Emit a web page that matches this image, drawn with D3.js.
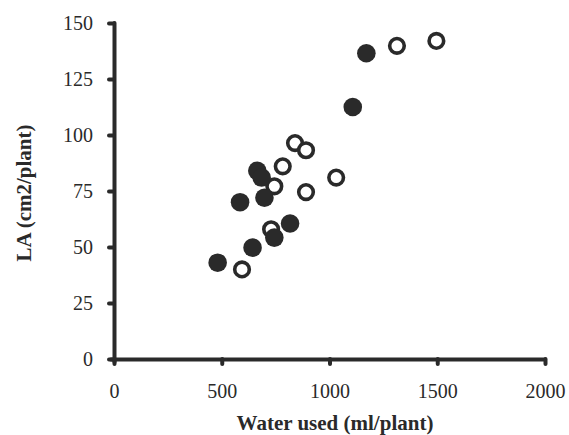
<!DOCTYPE html>
<html><head><meta charset="utf-8">
<script src="https://cdn.jsdelivr.net/npm/d3@7"></script>
<style>
html,body{margin:0;padding:0;background:#fff;}
svg{display:block;}
</style></head>
<body>
<svg id="chart" width="569" height="435"></svg>
<script>
// Data
const filledWater = [481, 585, 643, 665, 685, 698, 744, 817, 1108, 1171];
const filledLA    = [43, 70, 49.7, 84, 81, 72, 54.2, 60.5, 112.5, 136.5];
const openWater   = [594, 729, 744, 783, 840, 891, 891, 1031, 1313, 1496];
const openLA      = [40, 57.9, 77.1, 86, 96.4, 93.2, 74.5, 81, 139.8, 142];
const xTicks = [0, 500, 1000, 1500, 2000];
const yTicks = [0, 25, 50, 75, 100, 125, 150];
const xTitle = "Water used (ml/plant)";
const yTitle = "LA (cm2/plant)";

const ink = "#2a2a2a";
const svg = d3.select("#chart");
const x = d3.scaleLinear().domain([0, 2000]).range([114, 545]);
const y = d3.scaleLinear().domain([0, 150]).range([359, 23]);

const font = "'Liberation Serif','Times New Roman',serif";

// Axes
const xAxis = svg.append("g").attr("transform", `translate(0,${y(0)})`)
  .call(d3.axisBottom(x).tickValues(xTicks).tickFormat(d3.format("d")).tickSize(5).tickPadding(20).tickSizeOuter(0));
const yAxis = svg.append("g").attr("transform", `translate(${x(0)},0)`)
  .call(d3.axisLeft(y).tickValues(yTicks).tickFormat(d3.format("d")).tickSize(5).tickPadding(16).tickSizeOuter(0));

[xAxis, yAxis].forEach(g => {
  g.select(".domain").attr("stroke", ink).attr("stroke-width", 4).attr("stroke-linecap", "round");
  g.selectAll(".tick line").attr("stroke", ink).attr("stroke-width", 4).attr("stroke-linecap", "round");
  g.selectAll(".tick text").attr("fill", ink).style("font-family", font).style("font-size", "20px");
});
xAxis.select(".domain").attr("d", `M${x(0)-3},0.5H${x(2000)}`);
yAxis.select(".domain").attr("d", `M0.5,${y(0)+3}V${y(150)}`);

// Points
const filled = filledWater.map((w, i) => ({w, la: filledLA[i]}));
const open = openWater.map((w, i) => ({w, la: openLA[i]}));

svg.append("g").selectAll("circle").data(open).join("circle")
  .attr("cx", d => x(d.w)).attr("cy", d => y(d.la)).attr("r", 7.3)
  .attr("fill", "#fff").attr("stroke", ink).attr("stroke-width", 3.6);

svg.append("g").selectAll("circle").data(filled).join("circle")
  .attr("cx", d => x(d.w)).attr("cy", d => y(d.la)).attr("r", 9.3)
  .attr("fill", ink);

// Titles
svg.append("text").attr("x", 335).attr("y", 430).attr("text-anchor", "middle")
  .attr("fill", ink).style("font-family", font).style("font-weight", "bold").style("font-size", "21px")
  .text(xTitle);
svg.append("text").attr("transform", "translate(31,193) rotate(-90)").attr("text-anchor", "middle")
  .attr("fill", ink).style("font-family", font).style("font-weight", "bold").style("font-size", "21px")
  .text(yTitle);
</script>
</body></html>
